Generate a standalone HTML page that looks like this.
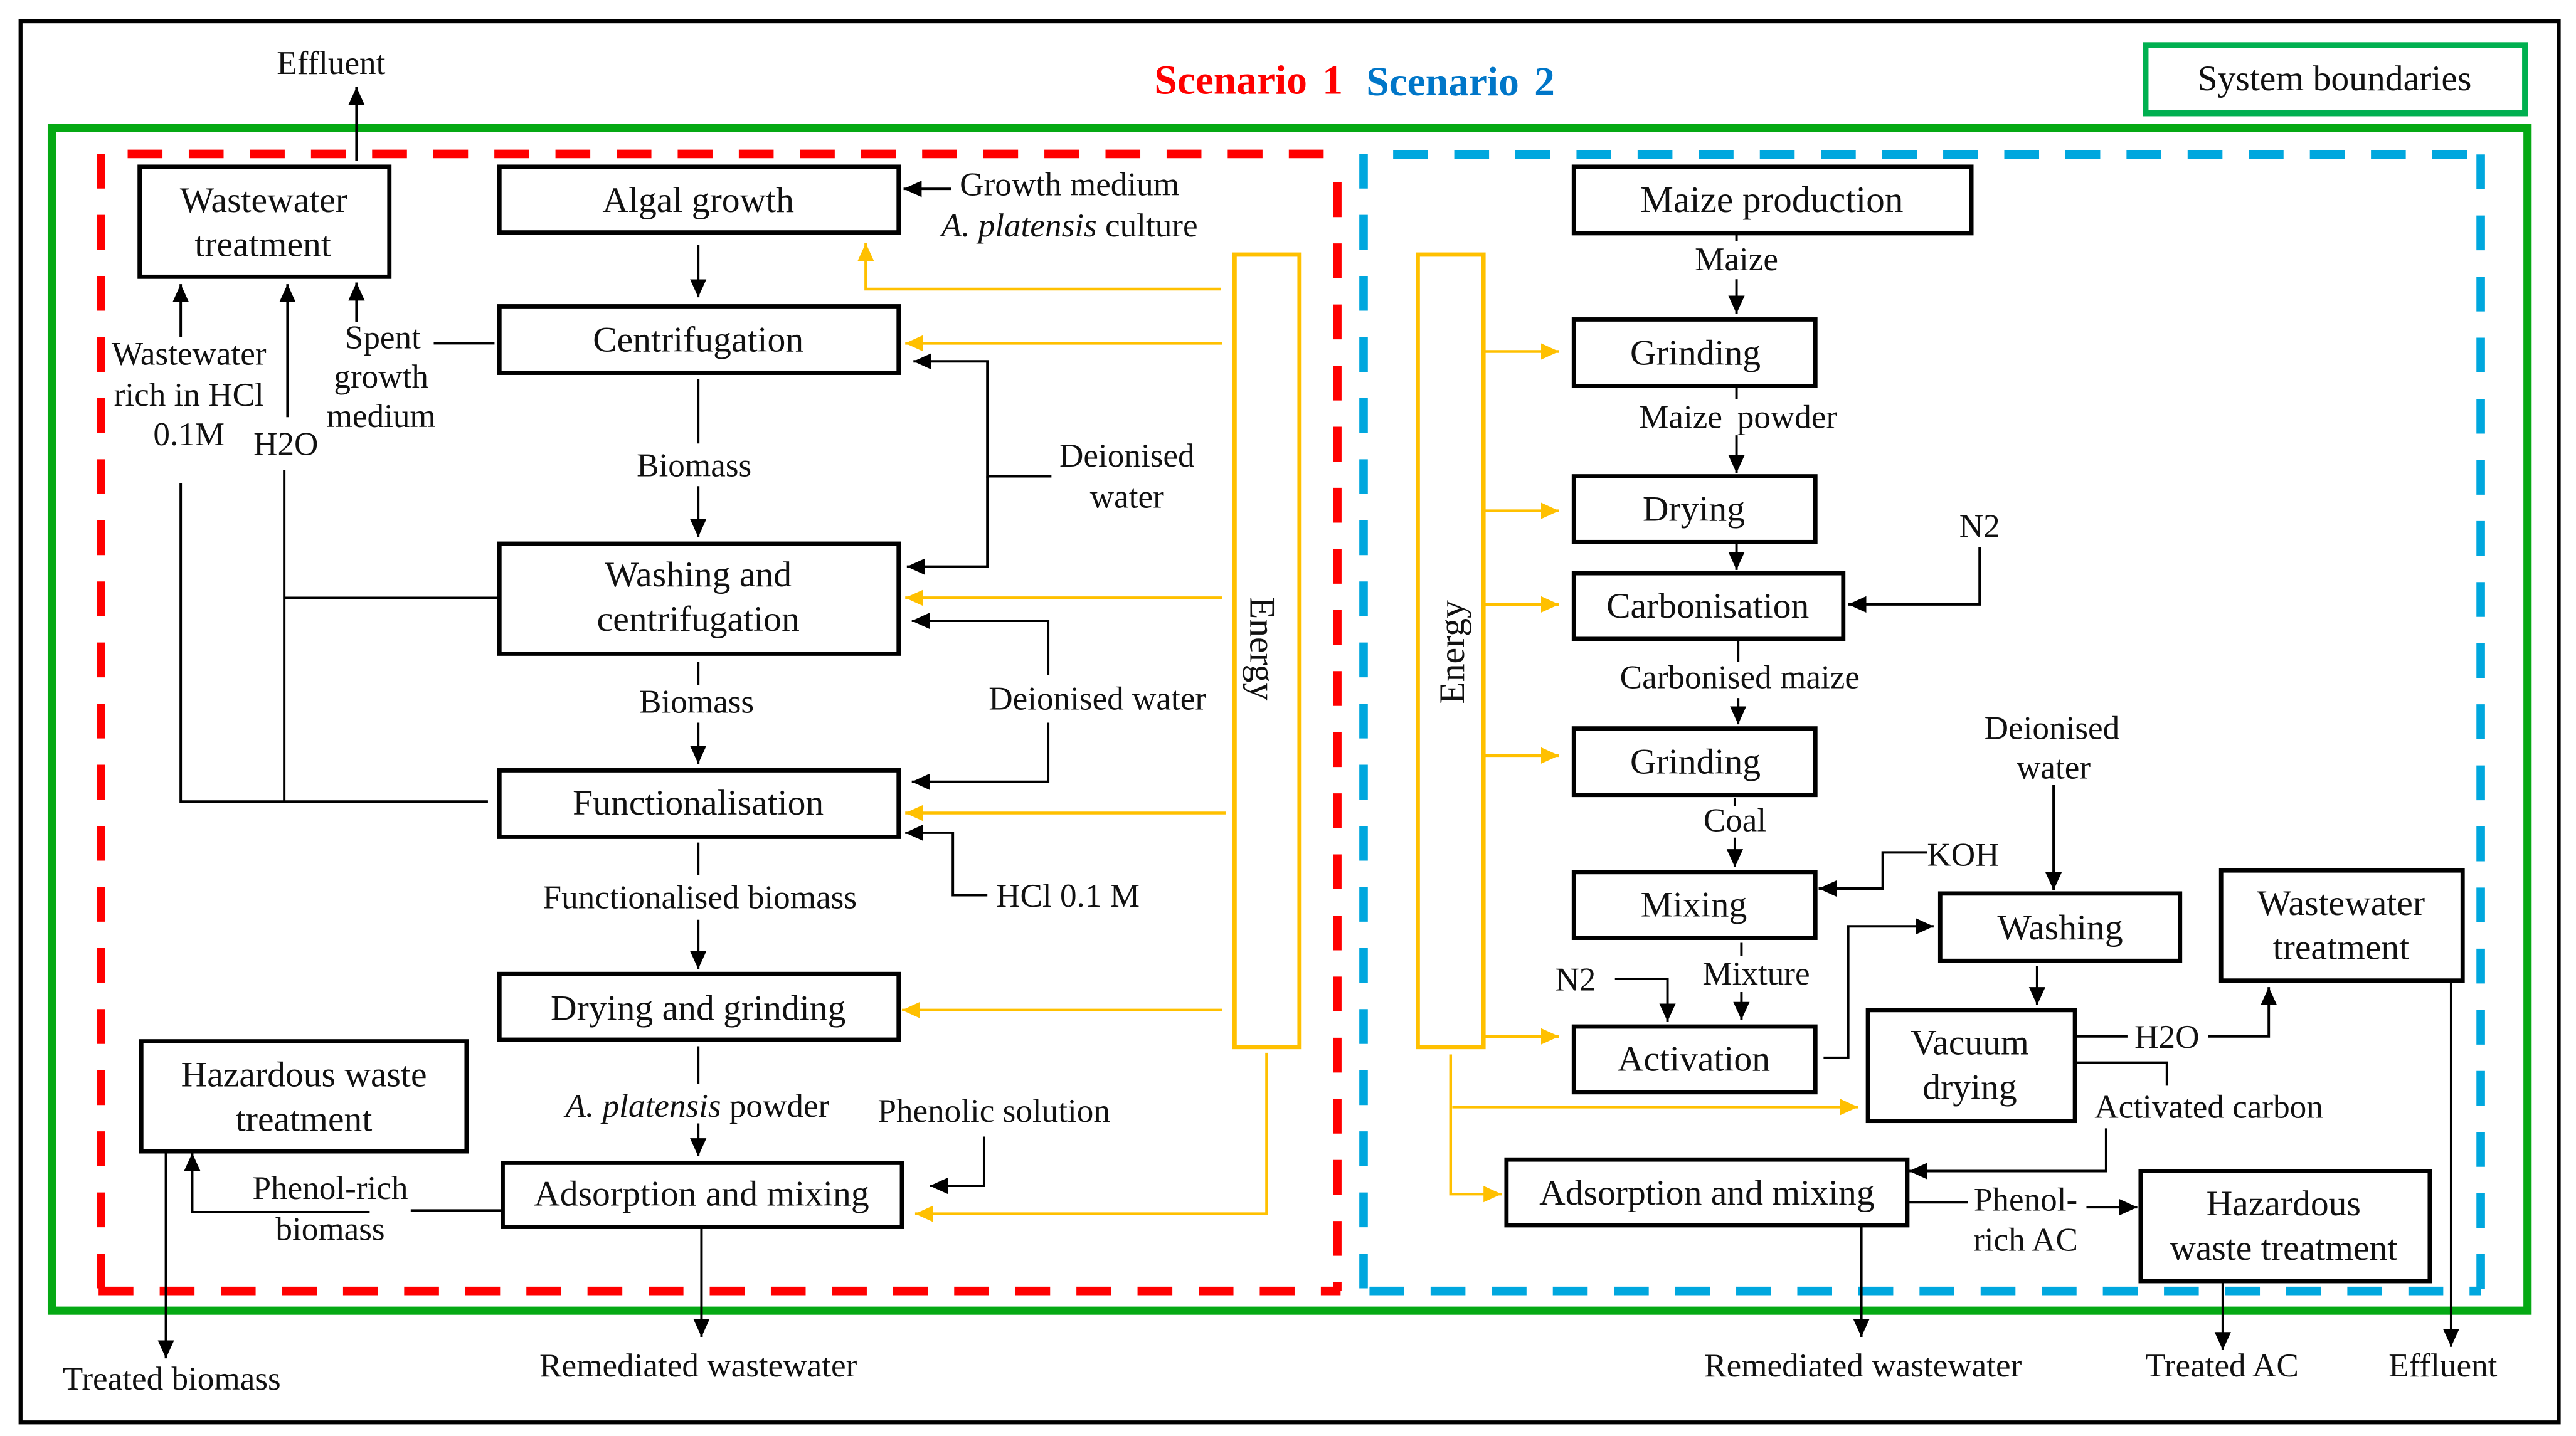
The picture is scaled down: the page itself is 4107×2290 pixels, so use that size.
<!DOCTYPE html>
<html><head><meta charset="utf-8"><style>
html,body{margin:0;padding:0;background:#fff;width:4107px;height:2290px;overflow:hidden}
svg{display:block}
text{font-family:"Liberation Serif",serif;fill:#111;font-size:20.3px;text-anchor:middle}
.b{font-size:22px}
.s{font-size:25px;font-weight:bold;word-spacing:3px}
.box{fill:none;stroke:#000;stroke-width:2.6}
.l{fill:none;stroke:#000;stroke-width:1.5}
.y{fill:none;stroke:#ffc000;stroke-width:1.7}
.e{fill:none;stroke:#ffc000;stroke-width:2.6}
</style></head><body>
<svg width="4107" height="2290" viewBox="0 0 1568 874.3" xmlns="http://www.w3.org/2000/svg">
<defs>
<marker id="k" markerUnits="userSpaceOnUse" markerWidth="12" markerHeight="11" refX="11" refY="5" orient="auto"><path d="M0,0L11,5L0,10z" fill="#000"/></marker>
<marker id="g" markerUnits="userSpaceOnUse" markerWidth="12" markerHeight="11" refX="11" refY="5" orient="auto"><path d="M0,0L11,5L0,10z" fill="#ffc000"/></marker>
</defs>
<rect x="0" y="0" width="1568" height="875" fill="#fff"/>
<rect x="12.5" y="13" width="1545" height="853" fill="none" stroke="#000" stroke-width="2.4"/>
<rect x="31.5" y="78" width="1507" height="720" fill="none" stroke="#05a914" stroke-width="5"/>
<rect x="1306" y="27.5" width="231" height="41.5" fill="none" stroke="#00b050" stroke-width="3.6"/>

<!-- red dashed -->
<g stroke="#ff0000" stroke-width="5.2" fill="none" stroke-dasharray="21.2 16">
<line x1="77.7" y1="93.7" x2="812" y2="93.7"/>
<line x1="61.5" y1="93.6" x2="61.5" y2="786"/>
<line x1="60" y1="786" x2="816" y2="786"/>
<line x1="814" y1="111" x2="814" y2="786"/>
</g>
<!-- blue dashed -->
<g stroke="#00a7de" stroke-width="5.2" fill="none" stroke-dasharray="21.2 16">
<line x1="830" y1="93.6" x2="830" y2="786"/>
<line x1="848" y1="94" x2="1510" y2="94"/>
<line x1="833.6" y1="786" x2="1510" y2="786"/>
<line x1="1510" y1="94" x2="1510" y2="786"/>
</g>

<!-- left boxes -->
<rect class="box" x="85" y="101.5" width="152" height="67"/>
<rect class="box" x="304" y="101.5" width="243" height="40"/>
<rect class="box" x="304" y="186.5" width="243" height="40.5"/>
<rect class="box" x="304" y="331" width="243" height="67"/>
<rect class="box" x="304" y="469" width="243" height="40.5"/>
<rect class="box" x="304" y="593" width="243" height="40"/>
<rect class="box" x="306" y="708" width="243" height="39"/>
<rect class="box" x="86" y="634" width="198" height="67"/>
<!-- energy -->
<rect class="e" x="751.5" y="155" width="39.5" height="482.5"/>
<rect class="e" x="863" y="155" width="40" height="482.5"/>
<!-- right boxes -->
<rect class="box" x="958" y="101.5" width="242" height="40.5"/>
<rect class="box" x="958" y="194.5" width="147" height="40.5"/>
<rect class="box" x="958" y="290" width="147" height="40"/>
<rect class="box" x="958" y="349" width="164" height="40"/>
<rect class="box" x="958" y="443.5" width="147" height="40.5"/>
<rect class="box" x="958" y="531" width="147" height="40"/>
<rect class="box" x="958" y="625" width="147" height="40"/>
<rect class="box" x="1181" y="544" width="146" height="41"/>
<rect class="box" x="1137" y="615" width="126" height="67.5"/>
<rect class="box" x="1352" y="530" width="147" height="67"/>
<rect class="box" x="917" y="706" width="244" height="40"/>
<rect class="box" x="1303" y="713" width="176" height="67"/>

<!-- black connectors left -->
<path class="l" marker-end="url(#k)" d="M217,98V53"/>
<path class="l" marker-end="url(#k)" d="M110,205V173"/>
<path class="l" marker-end="url(#k)" d="M175,254V173"/>
<path class="l" marker-end="url(#k)" d="M217,196V172"/>
<path class="l" d="M264,209H301"/>
<path class="l" marker-end="url(#k)" d="M425,149V181"/>
<path class="l" marker-end="url(#k)" d="M425,231V270M425,296V327"/>
<path class="l" marker-end="url(#k)" d="M425,403V417M425,440V465"/>
<path class="l" marker-end="url(#k)" d="M425,513V533M425,560V590"/>
<path class="l" marker-end="url(#k)" d="M425,637V660M425,684V704"/>
<path class="l" marker-end="url(#k)" d="M427,748V814"/>
<path class="l" d="M110,294V488H297"/>
<path class="l" d="M173,286V488"/>
<path class="l" d="M173,364H303"/>
<path class="l" marker-end="url(#k)" d="M579,115H550"/>
<path class="l" marker-end="url(#k)" d="M640,290H601V220H556"/>
<path class="l" marker-end="url(#k)" d="M601,290V345H552"/>
<path class="l" marker-end="url(#k)" d="M638,411V378H555"/>
<path class="l" marker-end="url(#k)" d="M638,440V476H555"/>
<path class="l" marker-end="url(#k)" d="M601,545H580V507H551"/>
<path class="l" marker-end="url(#k)" d="M599,692V722H566"/>
<path class="l" marker-end="url(#k)" d="M305,737H250M225,738H117V702"/>
<path class="l" marker-end="url(#k)" d="M101,702V827"/>

<!-- yellow left -->
<path class="y" marker-end="url(#g)" d="M743,176H527V148"/>
<path class="y" marker-end="url(#g)" d="M744,209H551"/>
<path class="y" marker-end="url(#g)" d="M744,364H551"/>
<path class="y" marker-end="url(#g)" d="M746,495H551"/>
<path class="y" marker-end="url(#g)" d="M744,615H549"/>
<path class="y" marker-end="url(#g)" d="M771,641V739H557"/>

<!-- yellow right -->
<path class="y" marker-end="url(#g)" d="M904,214H949"/>
<path class="y" marker-end="url(#g)" d="M904,311H949"/>
<path class="y" marker-end="url(#g)" d="M904,368H949"/>
<path class="y" marker-end="url(#g)" d="M904,460H949"/>
<path class="y" marker-end="url(#g)" d="M904,631H949"/>
<path class="y" marker-end="url(#g)" d="M883,642V727H914"/>
<path class="y" marker-end="url(#g)" d="M884,674H1131"/>

<!-- black connectors right -->
<path class="l" marker-end="url(#k)" d="M1057,142V147M1057,170V191"/>
<path class="l" marker-end="url(#k)" d="M1057,236V243M1057,265V288"/>
<path class="l" marker-end="url(#k)" d="M1057,331V347"/>
<path class="l" marker-end="url(#k)" d="M1205,333V368H1125"/>
<path class="l" marker-end="url(#k)" d="M1058,390V403M1058,425V441"/>
<path class="l" marker-end="url(#k)" d="M1056,486V491M1056,510V528"/>
<path class="l" marker-end="url(#k)" d="M1173,519H1146V541H1107"/>
<path class="l" marker-end="url(#k)" d="M1060,574V582M1060,604V621"/>
<path class="l" marker-end="url(#k)" d="M983,596H1015V622"/>
<path class="l" marker-end="url(#k)" d="M1110,644H1125V564H1177"/>
<path class="l" marker-end="url(#k)" d="M1250,478V542"/>
<path class="l" marker-end="url(#k)" d="M1240,588V612"/>
<path class="l" marker-end="url(#k)" d="M1263,631H1295M1344,631H1381V601"/>
<path class="l" d="M1263,647H1319V661"/>
<path class="l" marker-end="url(#k)" d="M1282,687V713H1162"/>
<path class="l" d="M1161,732H1198"/>
<path class="l" marker-end="url(#k)" d="M1270,735H1301"/>
<path class="l" marker-end="url(#k)" d="M1133,747V814"/>
<path class="l" marker-end="url(#k)" d="M1353,781V822"/>
<path class="l" marker-end="url(#k)" d="M1492,597V820"/>

<!-- text -->
<text x="201.5" y="45">Effluent</text>
<text class="s" x="760" y="57" style="fill:#ff0000">Scenario 1</text>
<text class="s" x="889" y="58" style="fill:#0076c8">Scenario 2</text>
<text class="b" x="1421" y="55">System boundaries</text>

<text class="b" x="160.5" y="129">Wastewater</text>
<text class="b" x="160" y="156">treatment</text>
<text class="b" x="425" y="129">Algal growth</text>
<text class="b" x="425" y="214">Centrifugation</text>
<text class="b" x="425" y="357">Washing and</text>
<text class="b" x="425" y="384">centrifugation</text>
<text class="b" x="425" y="496">Functionalisation</text>
<text class="b" x="425" y="621">Drying and grinding</text>
<text class="b" x="427" y="734">Adsorption and mixing</text>
<text class="b" x="185" y="661.5">Hazardous waste</text>
<text class="b" x="185" y="688.5">treatment</text>

<text x="115" y="222">Wastewater</text>
<text x="115" y="247">rich in HCl</text>
<text x="115" y="271">0.1M</text>
<text x="174" y="277">H2O</text>
<text x="233" y="212">Spent</text>
<text x="232" y="236">growth</text>
<text x="232" y="260">medium</text>
<text x="422.5" y="290">Biomass</text>
<text x="424" y="434">Biomass</text>
<text x="426" y="553">Functionalised biomass</text>
<text x="424.5" y="680"><tspan font-style="italic">A. platensis</tspan> powder</text>
<text x="605" y="683">Phenolic solution</text>
<text x="201" y="730">Phenol-rich</text>
<text x="201" y="755">biomass</text>
<text x="651" y="119">Growth medium</text>
<text x="651" y="144"><tspan font-style="italic">A. platensis</tspan> culture</text>
<text x="686" y="284">Deionised</text>
<text x="686" y="309">water</text>
<text x="668" y="432">Deionised water</text>
<text x="650" y="552">HCl 0.1 M</text>
<text x="104.5" y="846">Treated biomass</text>
<text x="425" y="838">Remediated wastewater</text>

<text class="b" transform="translate(761,395) rotate(90)">Energy</text>
<text class="b" transform="translate(891,397) rotate(-90)">Energy</text>

<text class="b" x="1078.5" y="129" style="font-size:22.6px">Maize production</text>
<text class="b" x="1032" y="222">Grinding</text>
<text class="b" x="1031" y="317">Drying</text>
<text class="b" x="1039.5" y="376">Carbonisation</text>
<text class="b" x="1032" y="471">Grinding</text>
<text class="b" x="1031" y="558">Mixing</text>
<text class="b" x="1031" y="652">Activation</text>
<text class="b" x="1254" y="572">Washing</text>
<text class="b" x="1199" y="642">Vacuum</text>
<text class="b" x="1199" y="669">drying</text>
<text class="b" x="1425" y="557">Wastewater</text>
<text class="b" x="1425" y="584">treatment</text>
<text class="b" x="1039" y="733.5">Adsorption and mixing</text>
<text class="b" x="1390" y="740">Hazardous</text>
<text class="b" x="1390" y="767">waste treatment</text>

<text x="1057" y="164.5">Maize</text>
<text x="1058" y="260.5" style="word-spacing:4px">Maize powder</text>
<text x="1205" y="327">N2</text>
<text x="1059" y="419">Carbonised maize</text>
<text x="1249" y="450">Deionised</text>
<text x="1250" y="474">water</text>
<text x="1056" y="506">Coal</text>
<text x="1195" y="527">KOH</text>
<text x="1069" y="599.5">Mixture</text>
<text x="959" y="603">N2</text>
<text x="1319" y="638">H2O</text>
<text x="1344.5" y="680.5">Activated carbon</text>
<text x="1233" y="737">Phenol-</text>
<text x="1233" y="761.5">rich AC</text>
<text x="1134" y="838">Remediated wastewater</text>
<text x="1352.5" y="838">Treated AC</text>
<text x="1487" y="838">Effluent</text>
</svg>
</body></html>
